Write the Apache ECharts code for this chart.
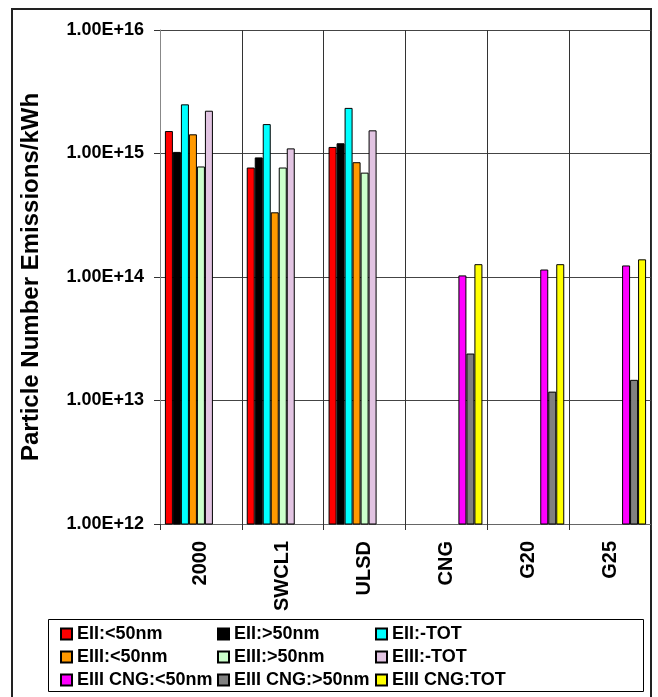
<!DOCTYPE html>
<html>
<head>
<meta charset="utf-8">
<script src="https://cdn.jsdelivr.net/npm/echarts@6/dist/echarts.min.js"></script>
<style>
html,body{margin:0;padding:0;background:#fff;}
#chart{width:658px;height:697px;}
</style>
</head>
<body>
<div id="chart"></div>
<script>
const categories = ['2000', 'SWCL1', 'ULSD', 'CNG', 'G20', 'G25'];
const seriesNames = ['EII:<50nm', 'EII:>50nm', 'EII:-TOT', 'EIII:<50nm', 'EIII:>50nm', 'EIII:-TOT', 'EIII CNG:<50nm', 'EIII CNG:>50nm', 'EIII CNG:TOT'];
const eiiLt50 = [1.52e15, 7.7e14, 1.13e15, null, null, null];
const eiiGt50 = [1.03e15, 9.3e14, 1.21e15, null, null, null];
const eiiTot = [2.5e15, 1.73e15, 2.34e15, null, null, null];
const eiiiLt50 = [1.43e15, 3.34e14, 8.5e14, null, null, null];
const eiiiGt50 = [7.85e14, 7.7e14, 7.0e14, null, null, null];
const eiiiTot = [2.22e15, 1.1e15, 1.54e15, null, null, null];
const cngLt50 = [null, null, null, 1.03e14, 1.15e14, 1.24e14];
const cngGt50 = [null, null, null, 2.4e13, 1.18e13, 1.47e13];
const cngTot = [null, null, null, 1.27e14, 1.27e14, 1.39e14];
const yTickLabels = ['1.00E+12', '1.00E+13', '1.00E+14', '1.00E+15', '1.00E+16'];

const seriesData = [eiiLt50, eiiGt50, eiiTot, eiiiLt50, eiiiGt50, eiiiTot, cngLt50, cngGt50, cngTot];
const colors = ['#ff0000', '#000000', '#00ffff', '#ff9900', '#ccffcc', '#e2c4e2', '#ff00ff', '#808080', '#ffff00'];

const FONT = "'Liberation Sans', Arial, sans-serif";
const chart = echarts.init(document.getElementById('chart'));

const legendCommon = {
  orient: 'vertical',
  icon: 'rect',
  itemWidth: 11,
  itemHeight: 11,
  itemGap: 5,
  padding: 0,
  top: 625,
  height: 90,
  textStyle: { fontFamily: FONT, fontWeight: 'bold', fontSize: 18, color: '#000', lineHeight: 17 }
};

const option = {
  animation: false,
  backgroundColor: '#fff',
  color: colors,
  grid: { left: 160, right: 7, top: 30, bottom: 173, containLabel: false },
  legend: [
    Object.assign({}, legendCommon, { left: 60, data: [seriesNames[0], seriesNames[3], seriesNames[6]] }),
    Object.assign({}, legendCommon, { left: 217, data: [seriesNames[1], seriesNames[4], seriesNames[7]] }),
    Object.assign({}, legendCommon, { left: 375, data: [seriesNames[2], seriesNames[5], seriesNames[8]] })
  ],
  xAxis: {
    type: 'category',
    data: categories,
    axisLine: { lineStyle: { color: '#666', width: 1 } },
    axisTick: { show: true, length: 6, lineStyle: { color: '#333' } },
    splitLine: { show: true, lineStyle: { color: '#333', width: 1 } },
    axisLabel: { rotate: 90, margin: 17, fontFamily: FONT, fontWeight: 'bold', fontSize: 20, color: '#000' }
  },
  yAxis: {
    type: 'log',
    logBase: 10,
    min: 1e12,
    max: 1e16,
    name: 'Particle Number Emissions/kWh',
    nameLocation: 'middle',
    nameGap: 117,
    nameTextStyle: { fontFamily: FONT, fontWeight: 'bold', fontSize: 24, color: '#000' },
    axisLine: { show: true, lineStyle: { color: '#888', width: 1 } },
    axisTick: { show: true, length: 6, lineStyle: { color: '#333' } },
    splitLine: { show: true, lineStyle: { color: '#444', width: 1 } },
    axisLabel: {
      margin: 16,
      fontFamily: FONT, fontWeight: 'bold', fontSize: 18, color: '#000',
      formatter: function (v) { return yTickLabels[Math.round(Math.log10(v)) - 12]; }
    }
  },
  series: seriesNames.map(function (name, i) {
    return {
      name: name,
      type: 'bar',
      data: seriesData[i],
      barGap: '0%',
      barCategoryGap: '12%',
      itemStyle: { color: colors[i], borderColor: '#000', borderWidth: 1 }
    };
  }),
  graphic: [
    { type: 'rect', shape: { x: 12, y: 9, width: 639, height: 700 }, style: { fill: 'none', stroke: '#222', lineWidth: 2 }, silent: true },
    { type: 'rect', shape: { x: 48.5, y: 619.5, width: 595, height: 72 }, style: { fill: 'none', stroke: '#000', lineWidth: 1 }, silent: true, z: -1 }
  ]
};
chart.setOption(option);
</script>
</body>
</html>
